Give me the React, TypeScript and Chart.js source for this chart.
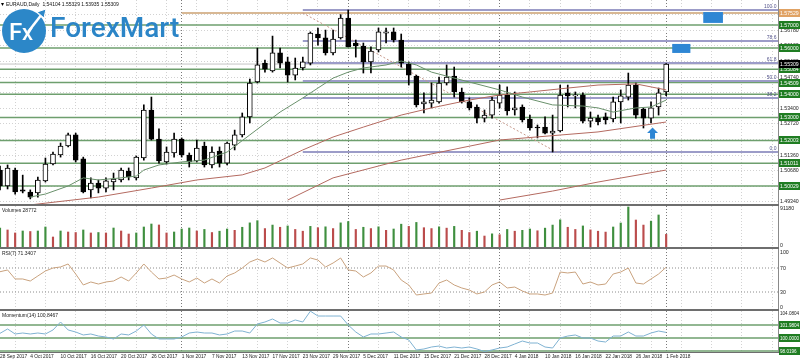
import React, { useEffect, useRef } from 'react';
import { Chart, registerables } from 'chart.js';

Chart.register(...registerables);

// ---------------- data ----------------
const TITLE = 'EURAUD,Daily  1.54104 1.55329 1.53935 1.55309';
const DATE_LABELS = ['28 Sep 2017', '4 Oct 2017', '10 Oct 2017', '16 Oct 2017', '20 Oct 2017', '26 Oct 2017', '1 Nov 2017', '7 Nov 2017', '13 Nov 2017', '17 Nov 2017', '23 Nov 2017', '29 Nov 2017', '5 Dec 2017', '11 Dec 2017', '15 Dec 2017', '21 Dec 2017', '28 Dec 2017', '4 Jan 2018', '10 Jan 2018', '16 Jan 2018', '22 Jan 2018', '26 Jan 2018', '1 Feb 2018'];
const LABEL_EVERY = 4;
const MONTH_STARTS = [24, 46, 66, 88];

const OPEN = [1.5072, 1.5003, 1.5072, 1.4986, 1.4977, 1.4973, 1.5025, 1.5098, 1.5137, 1.5176,
  1.5224, 1.5120, 1.4986, 1.5016, 1.4994, 1.5020, 1.5029, 1.5068, 1.5038, 1.5124,
  1.5332, 1.5206, 1.5107, 1.5146, 1.5206, 1.5137, 1.5111, 1.5176, 1.5094, 1.5154,
  1.5102, 1.5180, 1.5224, 1.5302, 1.5453, 1.5535, 1.5501, 1.5579, 1.5540, 1.5483,
  1.5514, 1.5535, 1.5661, 1.5644, 1.5579, 1.5644, 1.5730, 1.5622, 1.5609, 1.5540,
  1.5592, 1.5665, 1.5670, 1.5635, 1.5531, 1.5479, 1.5358, 1.5362, 1.5367, 1.5449,
  1.5479, 1.5410, 1.5367, 1.5345, 1.5297, 1.5310, 1.5362, 1.5397, 1.5332, 1.5345,
  1.5293, 1.5258, 1.5258, 1.5232, 1.5241, 1.5406, 1.5393, 1.5397, 1.5284, 1.5297,
  1.5302, 1.5293, 1.5367, 1.5388, 1.5440, 1.5336, 1.5297, 1.5345, 1.54104];
const HIGH = [1.5089, 1.5094, 1.5081, 1.5050, 1.4986, 1.5042, 1.5124, 1.5150, 1.5189, 1.5232,
  1.5232, 1.5128, 1.5038, 1.5029, 1.5038, 1.5059, 1.5081, 1.5081, 1.5133, 1.5354,
  1.5388, 1.5250, 1.5172, 1.5232, 1.5211, 1.5146, 1.5202, 1.5193, 1.5172, 1.5172,
  1.5193, 1.5245, 1.5319, 1.5466, 1.5600, 1.5548, 1.5652, 1.5600, 1.5561, 1.5557,
  1.5561, 1.5670, 1.5687, 1.5678, 1.5678, 1.5745, 1.5765, 1.5635, 1.5622, 1.5605,
  1.5687, 1.5687, 1.5687, 1.5661, 1.5540, 1.5483, 1.5406, 1.5449, 1.5475, 1.5527,
  1.5518, 1.5427, 1.5384, 1.5354, 1.5332, 1.5388, 1.5440, 1.5432, 1.5410, 1.5354,
  1.5310, 1.5267, 1.5302, 1.5310, 1.5440, 1.5440, 1.5410, 1.5406, 1.5323, 1.5310,
  1.5319, 1.5388, 1.5419, 1.5492, 1.5449, 1.5341, 1.5367, 1.5427, 1.55329];
const LOW = [1.4986, 1.4990, 1.4968, 1.4973, 1.4947, 1.4955, 1.5020, 1.5094, 1.5128, 1.5172,
  1.5107, 1.4973, 1.4951, 1.4973, 1.4977, 1.4986, 1.5020, 1.5029, 1.5029, 1.5115,
  1.5202, 1.5102, 1.5098, 1.5128, 1.5128, 1.5085, 1.5107, 1.5085, 1.5081, 1.5085,
  1.5094, 1.5159, 1.5215, 1.5276, 1.5449, 1.5496, 1.5496, 1.5514, 1.5453, 1.5462,
  1.5505, 1.5527, 1.5613, 1.5570, 1.5570, 1.5639, 1.5605, 1.5561, 1.5492, 1.5492,
  1.5583, 1.5622, 1.5626, 1.5518, 1.5440, 1.5345, 1.5319, 1.5341, 1.5362, 1.5440,
  1.5388, 1.5362, 1.5332, 1.5276, 1.5280, 1.5297, 1.5341, 1.5310, 1.5310, 1.5280,
  1.5245, 1.5211, 1.5228, 1.5150, 1.5237, 1.5345, 1.5341, 1.5276, 1.5258, 1.5267,
  1.5271, 1.5280, 1.5276, 1.5375, 1.5297, 1.5254, 1.5276, 1.5310, 1.53935];
const CLOSE = [1.5003, 1.5081, 1.4977, 1.4981, 1.4955, 1.5029, 1.5098, 1.5141, 1.5176, 1.5224,
  1.5115, 1.4977, 1.5016, 1.4994, 1.5025, 1.5033, 1.5072, 1.5042, 1.5128, 1.5332,
  1.5206, 1.5111, 1.5150, 1.5206, 1.5137, 1.5107, 1.5167, 1.5094, 1.5150, 1.5102,
  1.5189, 1.5224, 1.5302, 1.5449, 1.5527, 1.5509, 1.5579, 1.5535, 1.5483, 1.5514,
  1.5540, 1.5665, 1.5644, 1.5579, 1.5639, 1.5730, 1.5605, 1.5609, 1.5540, 1.5587,
  1.5670, 1.5670, 1.5635, 1.5535, 1.5483, 1.5354, 1.5367, 1.5375, 1.5449, 1.5475,
  1.5410, 1.5367, 1.5341, 1.5297, 1.5310, 1.5375, 1.5397, 1.5328, 1.5341, 1.5289,
  1.5254, 1.5254, 1.5232, 1.5241, 1.5397, 1.5393, 1.5397, 1.5284, 1.5297, 1.5280,
  1.5289, 1.5367, 1.5393, 1.5440, 1.5310, 1.5297, 1.5341, 1.5406, 1.55309];

// moving averages read as [bar, price]
const MA_GREEN = [[4, 1.4955], [6, 1.4968], [9, 1.5003], [11, 1.5038], [13, 1.5029], [16, 1.5038], [18, 1.5046], [19, 1.5072], [21, 1.5094], [24, 1.5107], [27, 1.5115], [30, 1.5150], [33, 1.5224], [37, 1.5323], [40, 1.5384], [42, 1.5427], [44, 1.5470], [46, 1.5496], [48, 1.5514], [51, 1.5527], [53, 1.5544], [55, 1.5527], [57, 1.5496], [62, 1.5453], [66, 1.5419], [69, 1.5388], [73, 1.5354], [77, 1.5349], [79, 1.5341], [81, 1.5323], [84, 1.5341], [86, 1.5345], [88, 1.5375]];
const MA_RED_1 = [[4, 1.4921], [13, 1.4955], [20, 1.4994], [26, 1.5029], [32, 1.5051], [35, 1.5081], [40, 1.5159], [44, 1.5215], [48, 1.5258], [53, 1.5310], [57, 1.5341], [62, 1.5375], [66, 1.5397], [70, 1.5410], [75, 1.5427], [79, 1.5440], [84, 1.5445], [88, 1.5419]];
const MA_RED_2 = [[38, 1.4942], [44, 1.5038], [53, 1.5115], [66, 1.5202], [79, 1.5237], [88, 1.5280]];
const MA_RED_3 = [[66, 1.4942], [73, 1.4981], [79, 1.5020], [88, 1.5072]];

const PRICE_TICKS = [1.4934, 1.5002, 1.5068, 1.5136, 1.5204, 1.5272, 1.5340, 1.5406, 1.5474, 1.5542, 1.5610, 1.5678, 1.5746];
const GREEN_LEVELS = [1.57000, 1.56000, 1.55084, 1.54509, 1.54000, 1.53000, 1.52003, 1.51011, 1.50029];
const TAN_LEVEL = 1.5752;
const TAN_LABEL = '1.57529';
const BID = 1.55309;
const FIB_START = 40;
const FIB_NAMES = ['100.0', '78.6', '61.8', '50.0', '38.2', '0.0'];
const FIB_PRICES = [1.5765, 1.5631, 1.5536, 1.5458, 1.5384, 1.5150];
const TREND = [[40, 1.5752], [73.5, 1.5150]];
const BLUE_BOXES = [[92.9, 95.5, 1.5756, 1.5709], [88.8, 91.2, 1.5618, 1.5579]];
const ARROW = [86.2, 1.5256, 1.5208];

const VOLUME = [43000, 38800, 32000, 36500, 35300, 36500, 45600, 22800, 36500, 34200,
  33000, 38800, 32000, 33000, 32000, 43300, 36500, 29600, 32000, 45600,
  52400, 50200, 32000, 34200, 41000, 43300, 36500, 40000, 33000, 36000,
  41000, 38000, 45000, 55000, 60000, 42000, 50000, 45000, 48000, 40000,
  36000, 47000, 44000, 46000, 42000, 55000, 58000, 40000, 45000, 42000,
  46000, 38000, 41000, 52000, 47000, 56000, 44000, 42000, 46000, 43000,
  47000, 38000, 33000, 36000, 25000, 30000, 28000, 40000, 36000, 38000,
  41000, 37000, 43000, 50000, 62000, 45000, 40000, 48000, 39000, 36000,
  34000, 45600, 54700, 91180, 61500, 50000, 59000, 73000, 28772];
const VOLUME_MAX_LABEL = '91180';

const RSI = [63.8, 66.7, 51.7, 51.7, 48.3, 56.7, 65, 70, 71.7, 76.7,
  60, 41.7, 46.7, 43.3, 46.7, 48.3, 55, 48.3, 61.7, 76.7,
  63.3, 51.7, 53.3, 58.3, 51.7, 46.7, 53.3, 45, 51.7, 45,
  56.7, 61.7, 70, 80, 85, 80, 86.7, 78.3, 70, 73.3,
  76.7, 86.7, 83.3, 71.7, 78.3, 86.7, 66.7, 65, 55, 61.7,
  73.3, 73.3, 66.7, 50, 41.7, 25, 26.7, 28.3, 45, 50,
  41.7, 36.7, 33.3, 26.7, 30, 41.7, 46.7, 36.7, 38.3, 31.7,
  26.7, 26.7, 25, 28.3, 63.3, 61.7, 63.3, 43.3, 46.7, 41.7,
  43.3, 60, 63.3, 70, 45, 43.3, 51.7, 60, 71.3407];
const RSI_LEVELS = [70, 30];

const MOMENTUM = [100.71, 101.37, 100.61, 100.76, 100.61, 100.76, 100.61, 101.22, 102.43, 101.22,
  100.91, 100.46, 100.61, 100.30, 100.15, 99.85, 100.61, 100.46, 101.06, 101.98,
  100.61, 99.85, 99.85, 99.85, 100.15, 100.76, 100.91, 100.76, 100.76, 100.46,
  100.61, 101.06, 101.06, 100.76, 102.13, 102.43, 102.89, 102.28, 102.28, 102.74,
  102.43, 104.08, 103.34, 103.34, 103.34, 103.34, 101.98, 100.91, 100.15, 100.61,
  100.61, 100.76, 100.91, 100.15, 99.70, 98.18, 98.33, 98.63, 98.78, 98.48,
  98.63, 98.48, 98.63, 98.33, 97.95, 98.18, 98.48, 98.63, 99.09, 99.54,
  99.24, 99.24, 98.63, 98.48, 100.00, 100.30, 100.46, 100.00, 100.00, 99.54,
  99.39, 100.30, 100.30, 100.91, 100.30, 100.30, 100.76, 101.06, 100.8467];
const MOMENTUM_LEVELS = [101.9804, 100.0, 98.0196];
const MOMENTUM_MAX_LABEL = '104.0804';

// ---------------- layout / style ----------------
const FONT = '"Liberation Sans", Arial, sans-serif';
const BAR_PX = 7.57;
const PLOT_RIGHT = 778;
const X_MAX = PLOT_RIGHT / BAR_PX;
const GRID_BARS = Array.from({ length: 26 }, (_, k) => 2 + 4 * k)
  .filter((v) => !MONTH_STARTS.includes(v)).concat(MONTH_STARTS).sort((a, b) => a - b);
const GREEN_LINE = '#6e9f6e';
const GREEN_BOX = '#1f7d22';
const AXIS_SIZE = 5.2;

const noPad = (s: any) => { s.paddingTop = 0; s.paddingBottom = 0; s.paddingLeft = 0; s.paddingRight = 0; };

const gridX = (): any => ({
  type: 'linear', min: 0, max: X_MAX, offset: false, position: 'bottom',
  afterBuildTicks: (s: any) => { s.ticks = GRID_BARS.map((v) => ({ value: v })); },
  ticks: { display: false },
  grid: {
    color: (c: any) => (c.tick && MONTH_STARTS.includes(c.tick.value) ? '#7a7a7a' : '#d2d2d2'),
    drawTicks: false, offset: false, lineWidth: 1,
  },
  border: { display: false, dash: [1, 2] },
  afterFit: (s: any) => { s.height = 0; noPad(s); },
});

const yRight = (min: number, max: number, extra: any = {}): any => ({
  type: 'linear', position: 'right', min, max,
  grid: { display: false, drawTicks: false },
  border: { display: false },
  ticks: { display: false },
  afterFit: (s: any) => { s.width = 800 - PLOT_RIGHT; noPad(s); },
  ...extra,
});

const baseOptions = (scales: any) => ({
  responsive: false, maintainAspectRatio: false, animation: false, events: [],
  layout: { padding: 0 },
  plugins: { legend: { display: false }, tooltip: { enabled: false } },
  scales,
});

const hline = (x0: number, x1: number, y: number, color: string, width: number, dash: number[] = [], order = 10): any => ({
  type: 'line', data: [{ x: x0, y }, { x: x1, y }], borderColor: color, borderWidth: width,
  borderDash: dash, pointRadius: 0, fill: false, order,
});

const pts = (arr: number[][]) => arr.map(([x, y]) => ({ x, y }));

function drawText(ctx: any, text: string, x: number, y: number, color = '#1a1a1a', align = 'left', size = AXIS_SIZE) {
  ctx.save();
  ctx.font = `${size}px ${FONT}`;
  ctx.fillStyle = color;
  ctx.textAlign = align;
  ctx.textBaseline = 'middle';
  ctx.fillText(text, x, y);
  ctx.restore();
}

function axisBox(chart: any, value: number, text: string, bg: string | null, fg: string, dy = 0, size = AXIS_SIZE) {
  const { ctx, chartArea } = chart;
  const y = Math.round(chart.scales.y.getPixelForValue(value) + dy);
  if (bg) {
    ctx.save();
    ctx.fillStyle = bg;
    ctx.fillRect(chartArea.right + 1, y - 4, 22, 8);
    ctx.restore();
  }
  drawText(ctx, text, chartArea.right + 2, y + 0.5, fg, 'left', size);
}

function frame(chart: any, bottomY: number | null, h = 2) {
  const { ctx, chartArea } = chart;
  ctx.save();
  ctx.fillStyle = '#8a8a8a';
  ctx.fillRect(chartArea.right, 0, 1, chartArea.bottom);
  if (bottomY !== null) {
    ctx.fillStyle = '#6e6e6e';
    ctx.fillRect(0, bottomY, chartArea.right + 1, h);
  }
  ctx.restore();
}

// ---------------- panel configs ----------------
const P_TOP = 1.580825;
const P_PER_PX = 0.000433;
const PRICE_H = 206;

function priceConfig(): any {
  const idx = OPEN.map((_, i) => i);
  const datasets: any[] = [
    { type: 'line', data: pts(MA_GREEN), borderColor: '#6a916c', borderWidth: 1, pointRadius: 0, order: 0 },
    { type: 'line', data: pts(MA_RED_1), borderColor: '#b46a60', borderWidth: 1, pointRadius: 0, order: 0 },
    { type: 'line', data: pts(MA_RED_2), borderColor: '#b46a60', borderWidth: 1, pointRadius: 0, order: 0 },
    { type: 'line', data: pts(MA_RED_3), borderColor: '#b46a60', borderWidth: 1, pointRadius: 0, order: 0 },
    {
      type: 'bar', data: idx.map((i) => ({ x: i, y: [OPEN[i], CLOSE[i]] })),
      backgroundColor: idx.map((i) => (CLOSE[i] >= OPEN[i] ? '#ffffff' : '#000000')),
      borderColor: '#000000', borderWidth: 1, borderSkipped: false, barThickness: 5, grouped: false, minBarLength: 1, order: 1,
    },
    {
      type: 'bar', data: idx.map((i) => ({ x: i, y: [LOW[i], HIGH[i]] })),
      backgroundColor: '#000000', barThickness: 1, grouped: false, order: 2,
    },
    ...GREEN_LEVELS.map((p) => hline(0, X_MAX, p, GREEN_LINE, 1.5)),
    hline(24, X_MAX, TAN_LEVEL, '#d8b894', 2, [], 11),
    hline(0, X_MAX, BID, '#c4c4c4', 1),
    ...FIB_PRICES.map((p) => hline(FIB_START, X_MAX, p, '#9c9cc8', 2, [], 9)),
    { type: 'line', data: pts(TREND), borderColor: '#c6988a', borderWidth: 1, borderDash: [2, 2], pointRadius: 0, order: 8 },
  ];
  const opts: any = baseOptions({
    x: gridX(),
    y: yRight(P_TOP - P_PER_PX * PRICE_H, P_TOP, {
      afterBuildTicks: (s: any) => { s.ticks = PRICE_TICKS.map((v) => ({ value: v })); },
      ticks: { display: true, callback: (v: any) => Number(v).toFixed(5), font: { family: FONT, size: AXIS_SIZE }, color: '#222', padding: 2 },
      grid: { display: true, drawTicks: false, color: '#d2d2d2' },
      border: { display: false, dash: [1, 2] },
    }),
  });
  return {
    type: 'bar', data: { datasets }, options: opts,
    plugins: [{
      id: 'priceDeco',
      afterDraw(chart: any) {
        const { ctx, chartArea, scales } = chart;
        const x = scales.x; const y = scales.y;
        FIB_PRICES.forEach((p, i) => drawText(ctx, FIB_NAMES[i], chartArea.right - 1.5, y.getPixelForValue(p) - 3.5, '#55558c', 'right', 5));
        ctx.save();
        ctx.fillStyle = '#2e86d4';
        BLUE_BOXES.forEach(([x0, x1, y0, y1]) => {
          const px0 = x.getPixelForValue(x0); const px1 = x.getPixelForValue(x1);
          const py0 = y.getPixelForValue(y0); const py1 = y.getPixelForValue(y1);
          ctx.fillRect(px0, py0, px1 - px0, py1 - py0);
        });
        const ax = x.getPixelForValue(ARROW[0]);
        const at = y.getPixelForValue(ARROW[1]);
        const ab = y.getPixelForValue(ARROW[2]);
        ctx.beginPath();
        ctx.moveTo(ax, at);
        ctx.lineTo(ax + 5.5, at + 5.5);
        ctx.lineTo(ax + 2.5, at + 5.5);
        ctx.lineTo(ax + 2.5, ab);
        ctx.lineTo(ax - 2.5, ab);
        ctx.lineTo(ax - 2.5, at + 5.5);
        ctx.lineTo(ax - 5.5, at + 5.5);
        ctx.closePath();
        ctx.fill();
        ctx.restore();
        GREEN_LEVELS.forEach((p) => axisBox(chart, p, p.toFixed(5), GREEN_BOX, '#ffffff'));
        axisBox(chart, TAN_LEVEL, TAN_LABEL, '#e0a264', '#ffffff');
        axisBox(chart, BID, BID.toFixed(5), '#000000', '#ffffff');
        drawText(ctx, '▾', 1, 4.5, '#000', 'left', 6);
        drawText(ctx, TITLE, 6, 4.5, '#111', 'left', 5);
        frame(chart, 204, 2);
      },
    }],
  };
}

const VOL_H = 43;
const VOL_PER_PX = 91180 / 40;
function volumeConfig(): any {
  const idx = VOLUME.map((_, i) => i);
  const colors = idx.map((i) => (i === 0 || VOLUME[i] > VOLUME[i - 1] ? '#3f8f3f' : '#bb4c4c'));
  const opts: any = baseOptions({ x: gridX(), y: yRight(-2 * VOL_PER_PX, 91180 + VOL_PER_PX) });
  return {
    type: 'bar',
    data: { datasets: [{ type: 'bar', data: idx.map((i) => ({ x: i, y: VOLUME[i] })), backgroundColor: colors, barThickness: 1.5, grouped: false }] },
    options: opts,
    plugins: [{
      id: 'volDeco',
      afterDraw(chart: any) {
        drawText(chart.ctx, `Volumes ${VOLUME[VOLUME.length - 1]}`, 2, 4.5, '#222', 'left', 5);
        axisBox(chart, 91180, VOLUME_MAX_LABEL, null, '#222', 0.5);
        axisBox(chart, 0, '0', null, '#222', -2);
        frame(chart, 41, 2);
      },
    }],
  };
}

const RSI_H = 62;
function rsiConfig(): any {
  const datasets: any[] = [
    { type: 'line', data: RSI.map((v, i) => ({ x: i, y: v })), borderColor: '#c9a27e', borderWidth: 1, pointRadius: 0, order: 0 },
    ...RSI_LEVELS.map((v) => hline(0, X_MAX, v, '#8c8c8c', 1, [1, 2])),
  ];
  const opts: any = baseOptions({ x: gridX(), y: yRight(-1 / 0.6, 100 + 1 / 0.6) });
  return {
    type: 'line', data: { datasets }, options: opts,
    plugins: [{
      id: 'rsiDeco',
      afterDraw(chart: any) {
        drawText(chart.ctx, `RSI(7) ${RSI[RSI.length - 1].toFixed(4)}`, 2, 5, '#222', 'left', 5);
        axisBox(chart, 100, '100', null, '#222', 2);
        RSI_LEVELS.forEach((v) => axisBox(chart, v, String(v), null, '#222'));
        axisBox(chart, 0, '0', null, '#222', -3);
        frame(chart, 60, 2);
      },
    }],
  };
}

const MOM_H = 53;
const MOM_PER_PX = 0.152;
function momentumConfig(): any {
  const datasets: any[] = [
    { type: 'line', data: MOMENTUM.map((v, i) => ({ x: i, y: v })), borderColor: '#7fb2d2', borderWidth: 1, pointRadius: 0, order: 0 },
    ...MOMENTUM_LEVELS.map((v) => hline(0, X_MAX, v, GREEN_LINE, 1.5)),
  ];
  const opts: any = baseOptions({
    x: {
      type: 'linear', min: 0, max: X_MAX, offset: false, position: 'bottom',
      afterBuildTicks: (s: any) => { s.ticks = DATE_LABELS.map((_, i) => ({ value: i * LABEL_EVERY })); },
      ticks: {
        callback: (_v: any, i: number) => DATE_LABELS[i], align: 'start', autoSkip: false, maxRotation: 0,
        font: { family: FONT, size: 4.8 }, color: '#222', padding: 2,
      },
      grid: { display: false, drawTicks: false },
      border: { display: false },
      afterFit: (s: any) => { s.height = 12; noPad(s); },
    },
    xg: gridX(),
    y: yRight(100 - 14 * MOM_PER_PX, 100 + 27 * MOM_PER_PX),
  });
  return {
    type: 'line', data: { datasets }, options: opts,
    plugins: [{
      id: 'momDeco',
      afterDraw(chart: any) {
        drawText(chart.ctx, `Momentum(14) ${MOMENTUM[MOMENTUM.length - 1].toFixed(4)}`, 2, 4.5, '#222', 'left', 5);
        axisBox(chart, 104.0804, MOMENTUM_MAX_LABEL, null, '#222', 2, 4.6);
        MOMENTUM_LEVELS.forEach((v) => axisBox(chart, v, v.toFixed(4), GREEN_BOX, '#ffffff', 0, 4.6));
        frame(chart, 41, 1);
      },
    }],
  };
}

// ---------------- components ----------------
function Panel({ top, height, make }: { top: number; height: number; make: () => any }) {
  const ref = useRef<HTMLCanvasElement | null>(null);
  useEffect(() => {
    const chart = new Chart(ref.current as HTMLCanvasElement, make());
    return () => chart.destroy();
  }, []);
  return (
    <canvas ref={ref} width={800} height={height}
      style={{ position: 'absolute', left: 0, top, width: 800, height, display: 'block' }} />
  );
}

function Logo() {
  return (
    <div style={{ position: 'absolute', left: 0, top: 0, width: 190, height: 60, pointerEvents: 'none' }}>
      <svg width="52" height="56" style={{ position: 'absolute', left: 0, top: 2 }}>
        <circle cx="24" cy="29" r="22" fill="#2c87c8" />
        <text x="9" y="38" fill="#ffffff" fontFamily="Roboto, Arial, sans-serif" fontSize="24" fontWeight="500">F</text>
        <text x="22" y="38" fill="#ffffff" fontFamily="Roboto, Arial, sans-serif" fontSize="22" fontWeight="500">x</text>
        <path d="M28 30 L42 12" stroke="#ffffff" strokeWidth="2.5" />
        <path d="M37 10 L46 7 L44 16 Z" fill="#2c87c8" stroke="#ffffff" strokeWidth="1" />
      </svg>
      <div style={{
        position: 'absolute', left: 50, top: 14, color: '#2b85c7',
        fontFamily: 'Roboto, Arial, sans-serif', fontWeight: 500, fontSize: 28, lineHeight: '28px', whiteSpace: 'nowrap',
      }}>ForexMart</div>
    </div>
  );
}

export default function App() {
  return (
    <div style={{ position: 'fixed', left: 0, top: 0, width: 800, height: 364, background: '#ffffff', overflow: 'hidden' }}>
      <Panel top={0} height={PRICE_H} make={priceConfig} />
      <Panel top={206} height={VOL_H} make={volumeConfig} />
      <Panel top={249} height={RSI_H} make={rsiConfig} />
      <Panel top={311} height={MOM_H} make={momentumConfig} />
      <Logo />
    </div>
  );
}
